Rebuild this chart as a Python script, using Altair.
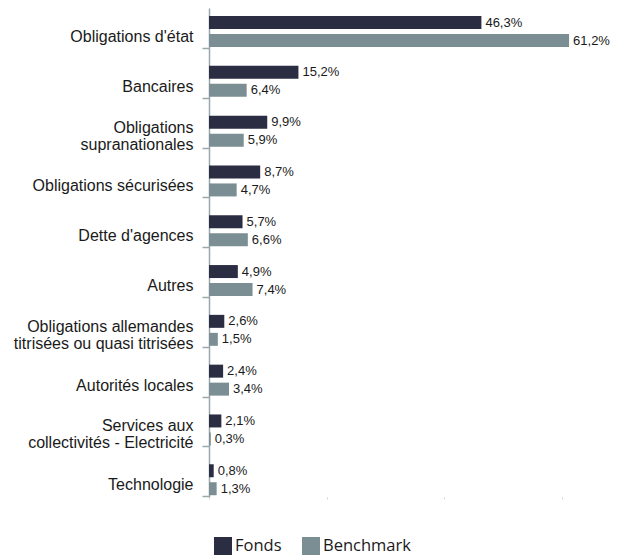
import altair as alt
import pandas as pd

categories = [
    "Obligations d'état",
    "Bancaires",
    "Obligations\nsupranationales",
    "Obligations sécurisées",
    "Dette d'agences",
    "Autres",
    "Obligations allemandes\ntitrisées ou quasi titrisées",
    "Autorités locales",
    "Services aux\ncollectivités - Electricité",
    "Technologie",
]
fonds = [46.3, 15.2, 9.9, 8.7, 5.7, 4.9, 2.6, 2.4, 2.1, 0.8]
benchmark = [61.2, 6.4, 5.9, 4.7, 6.6, 7.4, 1.5, 3.4, 0.3, 1.3]
series = ["Fonds", "Benchmark"]
colors = ["#2b2d42", "#7b8e93"]

rows = []
for c, f, b in zip(categories, fonds, benchmark):
    rows.append({"cat": c, "serie": "Fonds", "val": f})
    rows.append({"cat": c, "serie": "Benchmark", "val": b})
df = pd.DataFrame(rows)
df["label"] = df["val"].map(lambda v: f"{v:.1f}".replace(".", ",") + "%")

y_enc = alt.Y(
    "cat:N",
    sort=categories,
    title=None,
    scale=alt.Scale(paddingInner=0.378, paddingOuter=0.0986, align=0.82),
    axis=alt.Axis(
        labelExpr="split(datum.label, '\\n')",
        labelFont="Liberation Sans",
        labelFontSize=16,
        labelColor="#1a1a1a",
        labelPadding=9,
        labelBaseline="middle",
        tickSize=7,
        tickColor="#9aa8ae",
        tickWidth=1.5,
        domainColor="#9aa8ae",
        domainWidth=1.5,
        bandPosition=1,
        tickOffset=1,
        labelOffset={
            "condition": {"test": "indexof(datum.value, '\\n') >= 0", "value": -5},
            "value": 4,
        },
        labelLineHeight=17,
    ),
)
yoff = alt.YOffset("serie:N", sort=series, scale=alt.Scale(paddingInner=0.278, paddingOuter=0))
x_enc = alt.X(
    "val:Q",
    title=None,
    scale=alt.Scale(domain=[0, 60], nice=False),
    axis=alt.Axis(
        values=[0, 20, 40, 60],
        labels=False,
        domain=False,
        grid=False,
        tickSize=2,
        tickColor="#cfd6d9",
    ),
)

bars = alt.Chart(df).mark_bar().encode(
    x=x_enc,
    y=y_enc,
    yOffset=yoff,
    color=alt.Color(
        "serie:N",
        sort=series,
        scale=alt.Scale(domain=series, range=colors),
        legend=alt.Legend(
            title=None,
            orient="none",
            direction="horizontal",
            legendX=5,
            legendY=529,
            symbolType="square",
            symbolSize=324,
            symbolStrokeWidth=0,
            labelFont="Open Sans",
            labelFontSize=16.5,
            labelColor="#1a1a1a",
            columnPadding=20,
            padding=0,
            labelOffset=3,
        ),
    ),
)

text = alt.Chart(df).mark_text(
    align="left", baseline="middle", dx=4, font="Liberation Sans", fontSize=13, color="#1a1a1a"
).encode(
    x="val:Q",
    y=alt.Y("cat:N", sort=categories),
    yOffset=alt.YOffset("serie:N", sort=series),
    text="label:N",
)

chart = (
    alt.layer(bars, text)
    .properties(
        width=353,
        height=489,
        padding={"top": 0, "left": 5, "right": 5, "bottom": 0},
    )
    .configure_view(stroke=None)
)

chart.save("out.html", embed_options={"renderer": "svg", "actions": False})
